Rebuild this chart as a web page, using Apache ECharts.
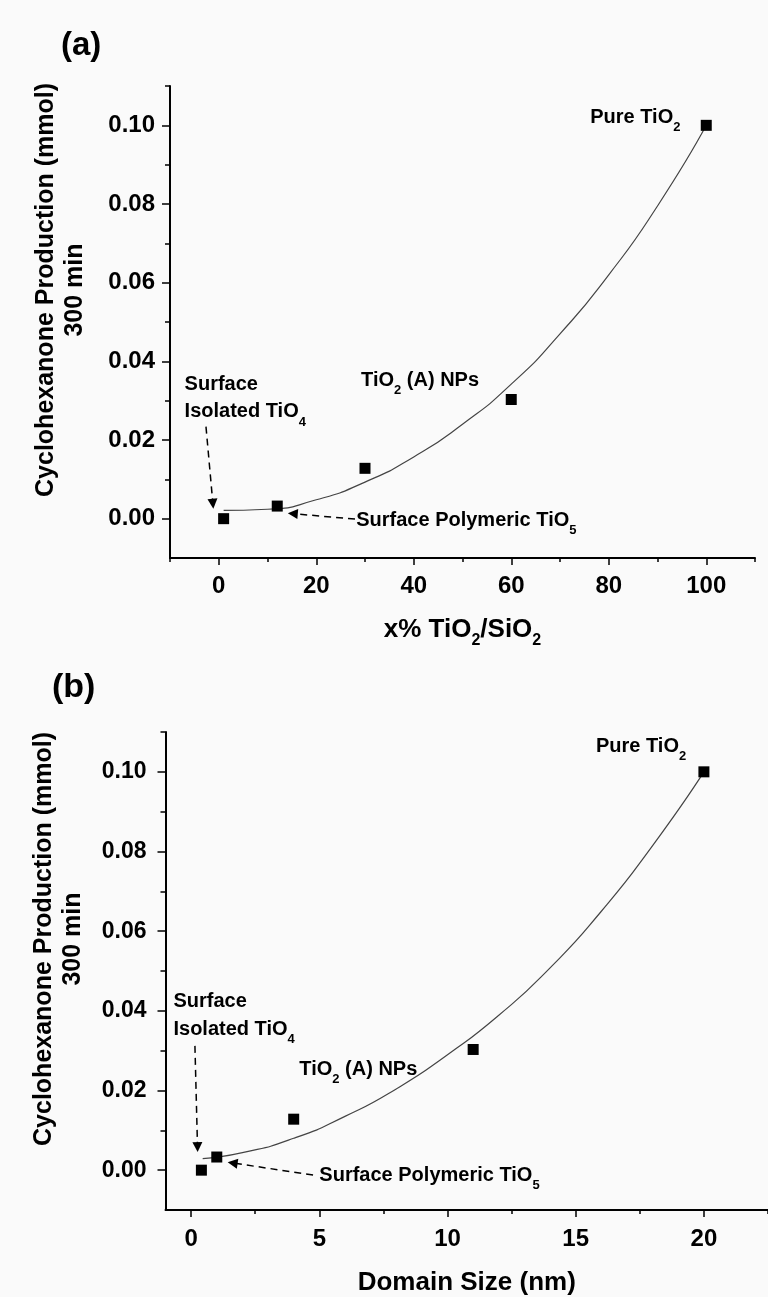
<!DOCTYPE html>
<html>
<head>
<meta charset="utf-8">
<script src="https://cdn.jsdelivr.net/npm/echarts@6/dist/echarts.min.js"></script>
<style>
html,body{margin:0;padding:0;background:#fafafa;}
#c{width:768px;height:1297px;}
</style>
</head>
<body>
<div id="c"></div>
<script>
// ---------- data ----------
// Panel (a): x% TiO2/SiO2
const xA = [1, 12, 30, 60, 100];
const yA = [0.0000, 0.0032, 0.0128, 0.0303, 0.1000];
const fitXA = [1, 10, 20, 30, 40, 50, 60, 70, 80, 90, 100];
const fitYA = [0.0021, 0.0024, 0.0048, 0.0093, 0.0157, 0.0240, 0.0342, 0.0470, 0.0620, 0.0795, 0.1000];
const xTicksA = [0, 20, 40, 60, 80, 100];
const xMinorA = [-10, 10, 30, 50, 70, 90, 110];

// Panel (b): domain size (nm)
const xB = [0.4, 1.0, 4.0, 11.0, 20.0];
const yB = [0.0000, 0.0033, 0.0128, 0.0303, 0.1000];
const fitXB = [0.45, 2, 4, 6, 8, 10, 12, 14, 16, 18, 20];
const fitYB = [0.0029, 0.0044, 0.0080, 0.0135, 0.0204, 0.0290, 0.0389, 0.0508, 0.0650, 0.0815, 0.1000];
const xTicksB = [0, 5, 10, 15, 20];
const xMinorB = [2.5, 7.5, 12.5, 17.5, 22.5];

const yTicks = [0, 0.02, 0.04, 0.06, 0.08, 0.10];
const yMinor = [0.01, 0.03, 0.05, 0.07, 0.09, 0.11];

// annotation texts (data coordinates) and arrows
const notesA = [
  {pos: [76.3, 0.1019], text: '{m|Pure TiO}{s|2}'},
  {pos: [29.3, 0.0349], text: '{m|TiO}{s|2}{m| (A) NPs}'},
  {pos: [-6.9, 0.0340], text: '{m|Surface}'},
  {pos: [-6.9, 0.0270], text: '{m|Isolated TiO}{s|4}'},
  {pos: [28.3, -0.0005], text: '{m|Surface Polymeric TiO}{s|5}'}
];
const arrowsA = [
  [[-2.62, 0.0234], [-1.2, 0.0038]],
  [[27.95, -0.0001], [15.19, 0.00127]]
];
const notesB = [
  {pos: [15.81, 0.1063], text: '{m|Pure TiO}{s|2}'},
  {pos: [-0.67, 0.0422], text: '{m|Surface}'},
  {pos: [-0.67, 0.0351], text: '{m|Isolated TiO}{s|4}'},
  {pos: [4.24, 0.0251], text: '{m|TiO}{s|2}{m| (A) NPs}'},
  {pos: [5.02, -0.0015], text: '{m|Surface Polymeric TiO}{s|5}'}
];
const arrowsB = [
  [[0.148, 0.0312], [0.249, 0.0058]],
  [[4.755, -0.0012], [1.618, 0.0018]]
];

// ---------- options ----------
const FONT = '"Liberation Sans", Arial, Helvetica, sans-serif';
const BLACK = '#000';
const zip = (xs, ys) => xs.map((x, i) => [x, ys[i]]);

function majorX(grid, min, max, ticks, margin, nameCfg) {
  return Object.assign({
    type: 'value', gridIndex: grid, min: min, max: max, position: 'bottom',
    axisLine: {show: true, onZero: false, lineStyle: {color: BLACK, width: 2}},
    axisTick: {show: true, customValues: ticks, length: 7, lineStyle: {color: BLACK, width: 1.5}},
    axisLabel: {show: true, customValues: ticks, margin: margin, color: BLACK,
      fontSize: 24, fontWeight: 'bold', fontFamily: FONT},
    splitLine: {show: false}
  }, nameCfg);
}
function minorX(grid, min, max, ticks) {
  return {
    type: 'value', gridIndex: grid, min: min, max: max, position: 'bottom',
    axisLine: {show: false, onZero: false},
    axisTick: {show: true, customValues: ticks, length: 4, lineStyle: {color: BLACK, width: 1.5}},
    axisLabel: {show: false}, splitLine: {show: false}
  };
}
function majorY(grid, labelMargin, fs, nameGap) {
  return {
    type: 'value', gridIndex: grid, min: -0.01, max: 0.11, position: 'left',
    axisLine: {show: true, onZero: false, lineStyle: {color: BLACK, width: 2}},
    axisTick: {show: true, customValues: yTicks, length: 8, lineStyle: {color: BLACK, width: 1.5}},
    axisLabel: {show: true, customValues: yTicks, margin: labelMargin, color: BLACK,
      fontSize: fs, fontWeight: 'bold', fontFamily: FONT,
      formatter: v => Number(v).toFixed(2)},
    splitLine: {show: false},
    name: 'Cyclohexanone Production (mmol)\n300 min',
    nameLocation: 'middle', nameRotate: 90, nameGap: nameGap,
    nameTextStyle: {fontSize: 25, fontWeight: 'bold', fontFamily: FONT, color: BLACK,
      lineHeight: 29, padding: [0, 0, 0, 64]}
  };
}
function minorY(grid) {
  return {
    type: 'value', gridIndex: grid, min: -0.01, max: 0.11, position: 'left',
    axisLine: {show: false, onZero: false},
    axisTick: {show: true, customValues: yMinor, length: 5, lineStyle: {color: BLACK, width: 1.5}},
    axisLabel: {show: false}, splitLine: {show: false}
  };
}

const richNote = {
  m: {fontSize: 20, fontWeight: 'bold', fontFamily: FONT, color: BLACK, opacity: 1},
  s: {fontSize: 13, fontWeight: 'bold', fontFamily: FONT, color: BLACK, opacity: 1, padding: [20, 0, 0, 0]}
};

function noteSeries(xi, yi, notes, arrows) {
  return {
    type: 'scatter', xAxisIndex: xi, yAxisIndex: yi, silent: true,
    symbolSize: 1, itemStyle: {color: 'rgba(0,0,0,0)', opacity: 1},
    data: notes.map(n => ({value: n.pos, label: {formatter: n.text}})),
    label: {show: true, position: [0, 0], align: 'left', verticalAlign: 'middle',
      color: BLACK, opacity: 1, rich: richNote},
    markLine: {
      silent: true, animation: false,
      symbol: ['none', 'triangle'], symbolSize: 10,
      label: {show: false},
      lineStyle: {color: BLACK, width: 1.5, type: [7, 5], opacity: 1},
      itemStyle: {color: BLACK},
      emphasis: {disabled: true},
      data: arrows.map(a => [{coord: a[0]}, {coord: a[1]}])
    },
    z: 5
  };
}

function fitSeries(xi, yi, xs, ys) {
  return {
    type: 'line', xAxisIndex: xi, yAxisIndex: yi, data: zip(xs, ys),
    smooth: 0.6, showSymbol: false, silent: true,
    lineStyle: {color: '#444', width: 1.2}, z: 2
  };
}
function pointSeries(xi, yi, xs, ys) {
  return {
    type: 'scatter', xAxisIndex: xi, yAxisIndex: yi, data: zip(xs, ys),
    symbol: 'rect', symbolSize: 11, itemStyle: {color: BLACK, opacity: 1}, silent: true, z: 3
  };
}

const option = {
  backgroundColor: '#fafafa',
  animation: false,
  title: [
    {text: '(a)', left: 61, top: 29, padding: 0,
      textStyle: {fontSize: 33, fontWeight: 'bold', fontFamily: FONT, color: BLACK}},
    {text: '(b)', left: 52, top: 671, padding: 0,
      textStyle: {fontSize: 34, fontWeight: 'bold', fontFamily: FONT, color: BLACK}}
  ],
  grid: [
    {left: 170, top: 86, width: 585, height: 472, containLabel: false},
    {left: 165.5, top: 732, width: 603.5, height: 478, containLabel: false}
  ],
  xAxis: [
    majorX(0, -10, 110, xTicksA, 16, {
      name: '{m|x% TiO}{s|2}{m|/SiO}{s|2}', nameLocation: 'middle', nameGap: 53,
      nameTextStyle: {rich: {
        m: {fontSize: 26, fontWeight: 'bold', fontFamily: FONT, color: BLACK},
        s: {fontSize: 16, fontWeight: 'bold', fontFamily: FONT, color: BLACK, padding: [22, 0, 0, 0]}
      }}
    }),
    minorX(0, -10, 110, xMinorA),
    majorX(1, -1, 22.5, xTicksB, 17, {
      name: 'Domain Size (nm)', nameLocation: 'middle', nameGap: 60,
      nameTextStyle: {fontSize: 26, fontWeight: 'bold', fontFamily: FONT, color: BLACK}
    }),
    minorX(1, -1, 22.5, xMinorB)
  ],
  yAxis: [
    majorY(0, 15, 24, 80),
    minorY(0),
    majorY(1, 19, 23, 78),
    minorY(1)
  ],
  series: [
    fitSeries(0, 0, fitXA, fitYA),
    pointSeries(0, 0, xA, yA),
    noteSeries(0, 0, notesA, arrowsA),
    fitSeries(2, 2, fitXB, fitYB),
    pointSeries(2, 2, xB, yB),
    noteSeries(2, 2, notesB, arrowsB)
  ]
};

const chart = echarts.init(document.getElementById('c'), null, {renderer: 'canvas'});
chart.setOption(option);
</script>
</body>
</html>
